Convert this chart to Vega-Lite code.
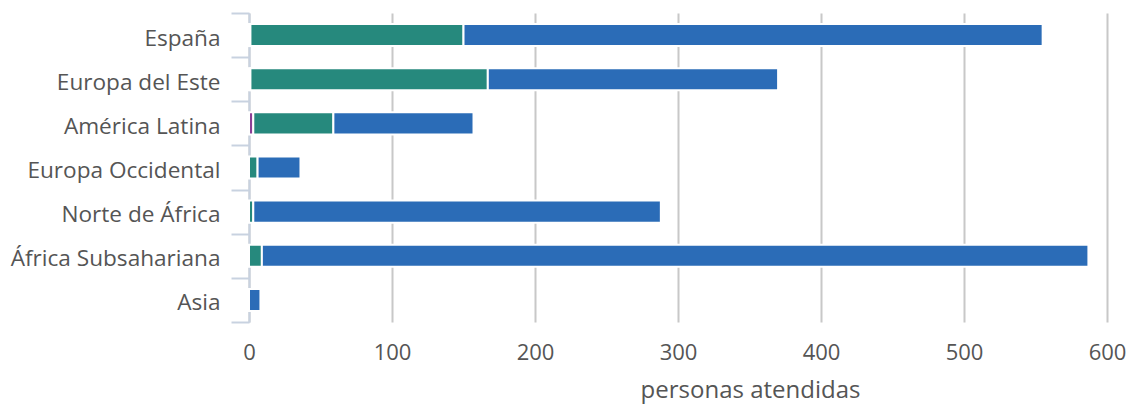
{
  "$schema": "https://vega.github.io/schema/vega-lite/v6.json",
  "width": 858,
  "height": 309,
  "autosize": {"type": "none"},
  "padding": {"left": 249, "top": 13, "right": 26, "bottom": 82},
  "background": "white",
  "data": {
    "values": [
      {"region": "España", "grupo": "A", "orden": 1, "personas": 1},
      {"region": "España", "grupo": "B", "orden": 2, "personas": 149},
      {"region": "España", "grupo": "C", "orden": 3, "personas": 405},
      {"region": "Europa del Este", "grupo": "A", "orden": 1, "personas": 1},
      {"region": "Europa del Este", "grupo": "B", "orden": 2, "personas": 166},
      {"region": "Europa del Este", "grupo": "C", "orden": 3, "personas": 203},
      {"region": "América Latina", "grupo": "A", "orden": 1, "personas": 3},
      {"region": "América Latina", "grupo": "B", "orden": 2, "personas": 56},
      {"region": "América Latina", "grupo": "C", "orden": 3, "personas": 98},
      {"region": "Europa Occidental", "grupo": "B", "orden": 2, "personas": 6},
      {"region": "Europa Occidental", "grupo": "C", "orden": 3, "personas": 30},
      {"region": "Norte de África", "grupo": "B", "orden": 2, "personas": 3},
      {"region": "Norte de África", "grupo": "C", "orden": 3, "personas": 285},
      {"region": "África Subsahariana", "grupo": "B", "orden": 2, "personas": 9},
      {"region": "África Subsahariana", "grupo": "C", "orden": 3, "personas": 578},
      {"region": "Asia", "grupo": "C", "orden": 3, "personas": 8}
    ]
  },
  "mark": {"type": "bar", "height": {"band": 0.5}, "stroke": "white", "strokeWidth": 2},
  "encoding": {
    "y": {
      "field": "region",
      "type": "nominal",
      "sort": ["España", "Europa del Este", "América Latina", "Europa Occidental", "Norte de África", "África Subsahariana", "Asia"],
      "scale": {"paddingInner": 0, "paddingOuter": 0},
      "axis": {
        "title": null,
        "tickBand": "extent",
        "tickSize": 18,
        "tickWidth": 2,
        "tickColor": "#c8d2e0",
        "domainColor": "#c8d2e0",
        "domainWidth": 2,
        "labelPadding": 11,
        "labelOffset": 3,
        "labelLimit": 0,
        "labelFont": "Open Sans",
        "labelFontSize": 22.6,
        "labelColor": "#555555",
        "grid": false
      }
    },
    "x": {
      "field": "personas",
      "type": "quantitative",
      "stack": "zero",
      "scale": {"domain": [0, 600], "nice": false},
      "axis": {
        "title": "personas atendidas",
        "values": [0, 100, 200, 300, 400, 500, 600],
        "domain": false,
        "ticks": false,
        "grid": true,
        "gridColor": "#c8c8c8",
        "gridWidth": 2,
        "labelFlush": false,
        "labelFont": "Open Sans",
        "labelFontSize": 22,
        "labelColor": "#555555",
        "labelPadding": 20,
        "titleFont": "Open Sans",
        "titleFontSize": 24,
        "titleFontWeight": "normal",
        "titleColor": "#555555",
        "titleX": 501,
        "titleY": 75,
        "titleAlign": "center",
        "titleBaseline": "alphabetic"
      }
    },
    "color": {
      "field": "grupo",
      "type": "nominal",
      "scale": {"domain": ["A", "B", "C"], "range": ["#8b3f96", "#26897d", "#2b6cb7"]},
      "legend": null
    },
    "order": {"field": "orden", "type": "quantitative"}
  },
  "config": {"view": {"stroke": null}}
}
